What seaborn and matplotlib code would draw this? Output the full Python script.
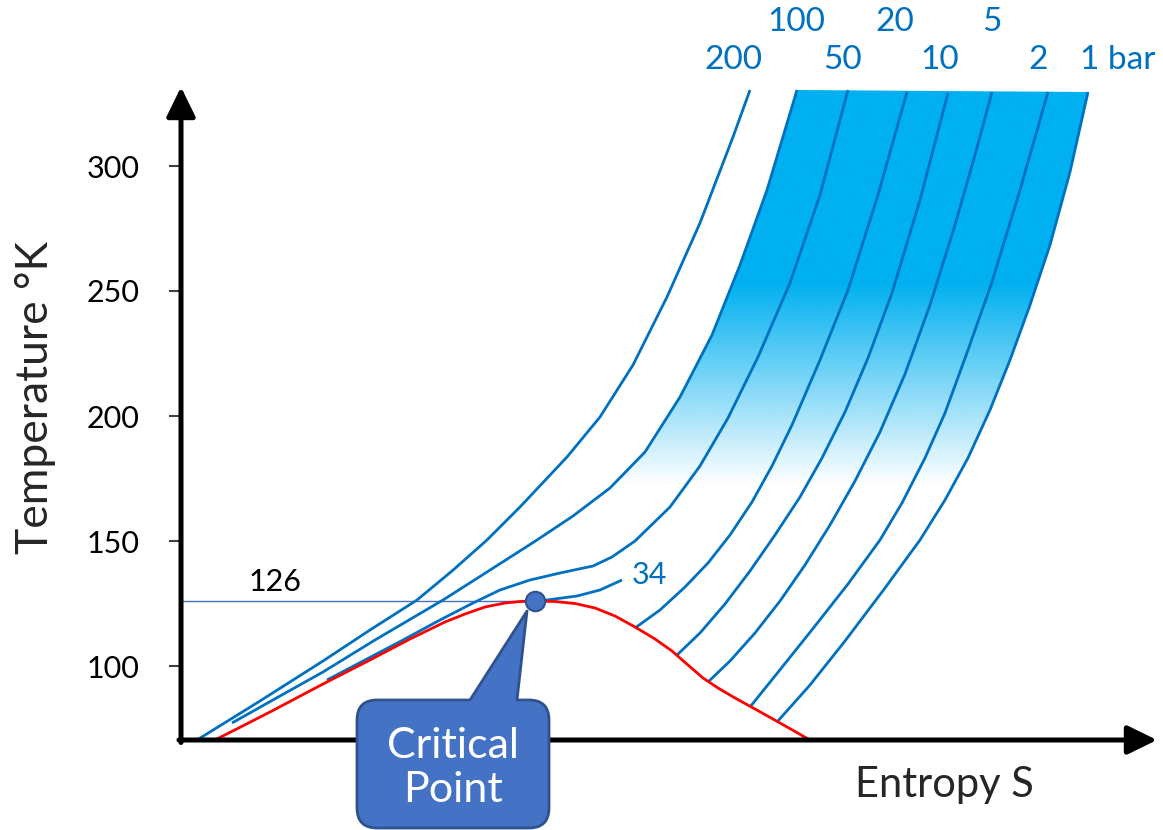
import numpy as np
import pandas as pd
import matplotlib
matplotlib.use("Agg")
import matplotlib.pyplot as plt
import matplotlib.colors as mcolors
from matplotlib.path import Path
from matplotlib.patches import PathPatch, Polygon
import seaborn as sns

# ---------------- data (entropy in arbitrary units, temperature in K) ----------------
dome_s = [0.34, 0.89, 1.42, 1.89, 2.29, 2.64, 2.84, 3.04, 3.24, 3.39, 3.54, 3.74, 3.94, 4.14,
          4.34, 4.54, 4.74, 4.91, 5.07, 5.22, 5.37, 5.54, 5.74, 5.99, 6.29]
dome_T = [70.4, 81.6, 92.8, 102.4, 110.8, 117.6, 120.8, 123.6, 125.2, 125.8, 126.0, 125.8,
          125.0, 123.2, 120.0, 115.6, 110.8, 106.0, 100.4, 95.2, 91.2, 87.2, 82.8, 77.2, 70.4]

crit_s, crit_T = 3.54, 126

p200_s = [0.16, 0.79, 1.42, 1.89, 2.36, 2.71, 3.06, 3.39, 3.86, 4.19, 4.52, 4.86, 5.19, 5.52,
          5.69]
p200_T = [70.4, 86.0, 102.0, 114.4, 126.4, 138.0, 150.4, 163.6, 183.6, 199.6, 220.4, 247.6,
          277.2, 311.6, 330.4]
p100_s = [0.51, 0.99, 1.42, 1.94, 2.62, 3.06, 3.56, 3.92, 4.29, 4.64, 4.99, 5.31, 5.59, 5.86,
          6.16]
p100_T = [77.2, 88.0, 97.6, 110.4, 126.4, 137.6, 150.4, 160.0, 171.2, 185.6, 207.6, 232.4,
          260.4, 290.4, 330.4]
p50_s = [1.46, 1.84, 2.22, 2.59, 2.92, 3.19, 3.49, 3.79, 4.12, 4.31, 4.54, 4.89, 5.19, 5.47,
         5.77, 6.09, 6.39, 6.67]
p50_T = [94.4, 102.4, 110.4, 118.4, 125.2, 130.4, 134.4, 137.2, 140.0, 143.6, 150.0, 163.6,
         180.0, 199.2, 223.6, 253.2, 288.4, 330.4]
p34_s = [3.54, 3.66, 3.96, 4.19, 4.41]
p34_T = [126.0, 126.4, 128.0, 130.4, 134.4]
p20_s = [4.54, 4.79, 5.04, 5.27, 5.49, 5.71, 5.91, 6.11, 6.39, 6.67, 6.97, 7.26]
p20_T = [115.2, 122.4, 131.6, 141.2, 152.4, 165.6, 180.0, 196.4, 222.4, 250.4, 288.4, 329.6]
p10_s = [4.96, 5.19, 5.44, 5.69, 5.94, 6.19, 6.41, 6.64, 6.87, 7.11, 7.39, 7.67]
p10_T = [104.4, 113.2, 124.8, 138.0, 152.4, 167.6, 183.2, 201.6, 223.2, 249.2, 286.4, 329.2]
p5_s = [5.27, 5.49, 5.74, 5.99, 6.24, 6.49, 6.74, 6.99, 7.24, 7.49, 7.74, 7.94, 8.11]
p5_T = [93.6, 102.0, 113.2, 126.0, 140.4, 156.4, 174.0, 193.6, 216.8, 244.4, 276.4, 304.4,
        329.6]
p2_s = [5.69, 6.02, 6.34, 6.67, 6.99, 7.21, 7.44, 7.64, 7.87, 8.11, 8.39, 8.67]
p2_T = [83.6, 100.0, 116.0, 132.8, 150.4, 165.2, 183.2, 201.2, 226.4, 253.6, 290.4, 329.6]
p1_s = [5.96, 6.29, 6.64, 7.04, 7.39, 7.64, 7.87, 8.09, 8.29, 8.49, 8.69, 8.89, 9.07]
p1_T = [77.6, 92.4, 110.0, 131.2, 150.4, 166.4, 183.2, 202.4, 222.4, 244.4, 268.4, 297.6,
        329.6]

isobar_labels = ["200", "100", "50", "20", "10", "5", "2", "1 bar"]
y_ticks = [100, 150, 200, 250, 300]

# ---------------- style ----------------
sns.set_style("white")
plt.rcParams["font.family"] = ["Lato", "DejaVu Sans"]

BLUE = "#0070C0"
BAND = "#00B0F0"
RED = "#FF0000"
CALLOUT = "#4472C4"
CALLOUT_EDGE = "#2F528F"

W, H = 1163, 830
fig = plt.figure(figsize=(W / 100, H / 100), dpi=100)
ax = fig.add_axes([181 / W, (H - 740) / H, (W - 181) / W, 740 / H])
ax.set_xlim(0, 9.82)
ax.set_ylim(70.4, 366.4)

# ---------------- gradient band between 100 bar and 1 bar ----------------
i100 = [i for i, t in enumerate(p100_T) if t >= 140]
i1 = [i for i, t in enumerate(p1_T) if t >= 140]
poly_s = [p100_s[i] for i in i100] + [p1_s[i] for i in reversed(i1)]
poly_T = [p100_T[i] for i in i100] + [p1_T[i] for i in reversed(i1)]
poly = Polygon(np.column_stack([poly_s, poly_T]), closed=True, facecolor="none",
               edgecolor="none")
ax.add_patch(poly)
nT = 400
Tg = np.linspace(70.4, 335, nT)
alpha = np.clip((Tg - 172) / (253 - 172), 0, 1)
img = np.zeros((nT, 1, 4))
img[..., :3] = mcolors.to_rgb(BAND)
img[..., 3] = alpha[:, None]
im = ax.imshow(img, extent=[min(poly_s) - 0.1, max(poly_s) + 0.1, 70.4, 335],
               origin="lower", aspect="auto", zorder=1, interpolation="bilinear")
im.set_clip_path(poly)
ax.set_xlim(0, 9.82)
ax.set_ylim(70.4, 366.4)

# ---------------- isobars ----------------
isobars = [(p200_s, p200_T), (p100_s, p100_T), (p50_s, p50_T), (p20_s, p20_T),
           (p10_s, p10_T), (p5_s, p5_T), (p2_s, p2_T), (p1_s, p1_T)]
for xs, ys in isobars + [(p34_s, p34_T)]:
    sns.lineplot(x=xs, y=ys, sort=False, estimator=None, color=BLUE, lw=2.0, ax=ax,
                 zorder=3, solid_joinstyle="round", solid_capstyle="butt")

# saturation dome
sns.lineplot(x=dome_s, y=dome_T, sort=False, estimator=None, color=RED, lw=2.0, ax=ax,
             zorder=4, solid_joinstyle="round")

# critical temperature line
ax.plot([0, crit_s], [crit_T, crit_T], color=CALLOUT, lw=1.0, zorder=2)
ax.text(0.94, crit_T + 2.2, str(crit_T), ha="center", va="bottom", fontsize=22,
        color="black")

# critical point
ax.plot([crit_s], [crit_T], "o", ms=14, mfc=CALLOUT, mec=CALLOUT_EDGE, mew=1.5, zorder=6)

# 34 bar label
ax.text(p34_s[-1] + 0.10, p34_T[-1] + 2.0, "34", ha="left", va="center", fontsize=22,
        color=BLUE)

# isobar labels at the top
rows = [342.4, 357.6, 342.4, 357.6, 342.4, 357.6, 342.4, 342.4]
offs = [-0.17, -0.01, -0.06, -0.12, -0.08, 0.0, -0.10, -0.08]
for (xs, ys), lab, yr, off in zip(isobars, isobar_labels, rows, offs):
    ha = "left" if lab == "1 bar" else "center"
    ax.text(xs[-1] + off, yr, lab, ha=ha, va="center", fontsize=24, color=BLUE)

# ---------------- axes ----------------
for sp in ax.spines.values():
    sp.set_visible(False)
ax.set_yticks(y_ticks)
ax.set_yticklabels([str(t) for t in y_ticks])
ax.set_xticks([])
ax.tick_params(axis="y", left=True, direction="out", length=9, width=1.5,
               color="#404040", pad=21, labelsize=22, labelcolor="black")
ax.grid(False)

arrow = dict(arrowstyle="-|>,head_length=0.45,head_width=0.22", mutation_scale=40,
             lw=3.6, color="black", shrinkA=0, shrinkB=0)
ax.annotate("", xy=(0, 331.6), xytext=(0, 69.4), arrowprops=arrow, annotation_clip=False,
            zorder=7)
ax.annotate("", xy=(9.76, 70.4), xytext=(-0.02, 70.4), arrowprops=arrow,
            annotation_clip=False, zorder=7)

fig.text(35 / W, 1 - 397 / H, "Temperature °K", rotation=90, ha="center", va="center",
         fontsize=32)
fig.text(944 / W, 1 - 785 / H, "Entropy S", ha="center", va="center", fontsize=30)

# ---------------- callout "Critical Point" ----------------
ov = fig.add_axes([0, 0, 1, 1], zorder=5)
ov.set_xlim(0, W)
ov.set_ylim(H, 0)
ov.axis("off")
ov.patch.set_alpha(0)

d = ax.transData.transform((crit_s, crit_T))
tip = (d[0] - 8, H - d[1] + 10)
x0, x1, y0, y1, r = 357, 549, 700, 828, 20
verts = [(x0 + r, y0), (470, y0), tip, (517, y0), (x1 - r, y0),
         (x1, y0), (x1, y0 + r),
         (x1, y1 - r),
         (x1, y1), (x1 - r, y1),
         (x0 + r, y1),
         (x0, y1), (x0, y1 - r),
         (x0, y0 + r),
         (x0, y0), (x0 + r, y0),
         (x0 + r, y0)]
codes = [Path.MOVETO, Path.LINETO, Path.LINETO, Path.LINETO, Path.LINETO,
         Path.CURVE3, Path.CURVE3,
         Path.LINETO,
         Path.CURVE3, Path.CURVE3,
         Path.LINETO,
         Path.CURVE3, Path.CURVE3,
         Path.LINETO,
         Path.CURVE3, Path.CURVE3,
         Path.CLOSEPOLY]
ov.add_patch(PathPatch(Path(verts, codes), facecolor=CALLOUT, edgecolor=CALLOUT_EDGE,
                       lw=2, clip_on=False, joinstyle="round"))
ov.text((x0 + x1) / 2, 768, "Critical\nPoint", ha="center", va="center", color="white",
        fontsize=31, linespacing=1.2)

fig.savefig("out.png", dpi=100)
